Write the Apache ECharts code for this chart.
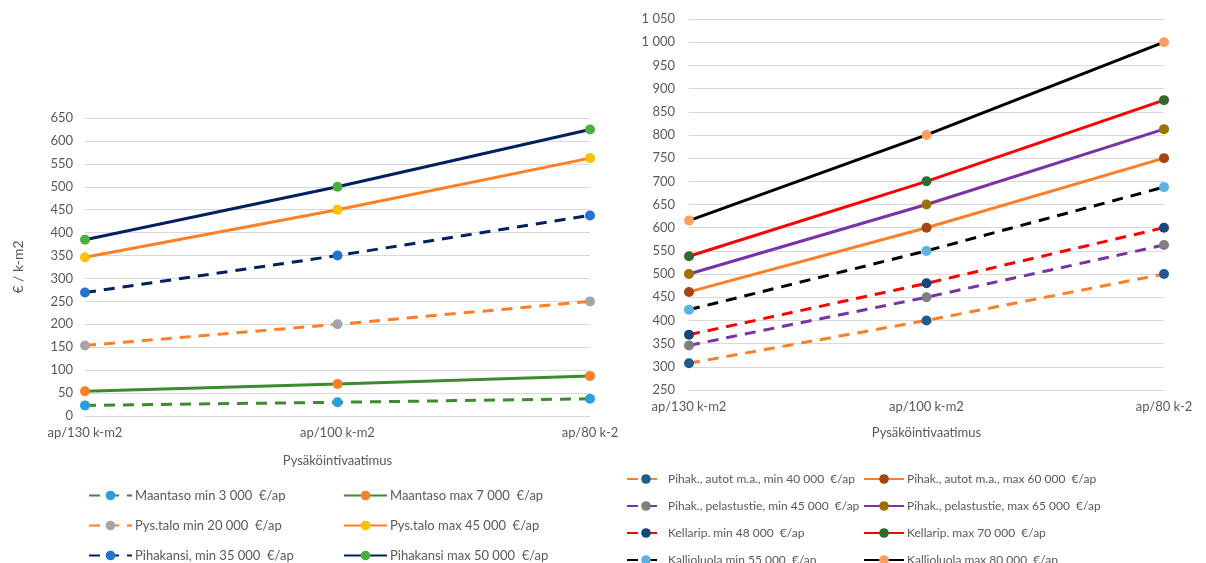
<!DOCTYPE html>
<html>
<head>
<meta charset="utf-8">
<script src="https://cdn.jsdelivr.net/npm/echarts@6/dist/echarts.min.js"></script>
<style>
  html, body { margin: 0; padding: 0; background: #fff; }
  #chart { width: 1206px; height: 563px; }
</style>
</head>
<body>
<div id="chart"></div>
<script>
// kategoriat (sama molemmissa kaavioissa)
const categoriesLeft = ["ap/130 k-m2", "ap/100 k-m2", "ap/80 k-2"];
const categoriesRight = ["ap/130 k-m2", "ap/100 k-m2", "ap/80 k-2"];

// vasen kaavio, € / k-m2
const maantasoMin = [23.1, 30, 37.5];
const maantasoMax = [53.8, 70, 87.5];
const pysTaloMin = [153.8, 200, 250];
const pysTaloMax = [346.2, 450, 562.5];
const pihakansiMin = [269.2, 350, 437.5];
const pihakansiMax = [384.6, 500, 625];

// oikea kaavio
const autotMin = [307.7, 400, 500];
const autotMax = [461.5, 600, 750];
const pelastusMin = [346.2, 450, 562.5];
const pelastusMax = [500, 650, 812.5];
const kellariMin = [369.2, 480, 600];
const kellariMax = [538.5, 700, 875];
const kallioMin = [423.1, 550, 687.5];
const kallioMax = [615.4, 800, 1000];

const FONT = "Lato";
const labelColor = "#595959";
const gridColor = "#d9d9d9";
const DASH = [11, 8];

function fmt(v) {
  return String(v).replace(/\B(?=(\d{3})+(?!\d))/g, " ");
}

function line(name, data, lineColor, markColor, dashed, idx) {
  return {
    name: name,
    type: "line",
    data: data,
    xAxisIndex: idx,
    yAxisIndex: idx,
    symbol: "circle",
    symbolSize: 10,
    showSymbol: true,
    itemStyle: { color: markColor },
    lineStyle: { color: lineColor, width: 3, type: dashed ? DASH : "solid" },
    emphasis: { disabled: true },
    animation: false,
  };
}

function xAxis(cats, idx, nameGap) {
  return {
    type: "category",
    gridIndex: idx,
    data: cats,
    boundaryGap: false,
    name: "Pysäköintivaatimus",
    nameLocation: "middle",
    nameGap: nameGap,
    nameTextStyle: { color: labelColor, fontFamily: FONT, fontSize: 13 },
    axisLine: { show: true, lineStyle: { color: gridColor } },
    axisTick: { show: false },
    axisLabel: { color: labelColor, fontFamily: FONT, fontSize: 13, margin: 10 },
  };
}

const series = [
  line("Maantaso min 3 000  €/ap", maantasoMin, "#3d8b2f", "#28a0dc", true, 0),
  line("Maantaso max 7 000  €/ap", maantasoMax, "#3d8b2f", "#ff7f27", false, 0),
  line("Pys.talo min 20 000  €/ap", pysTaloMin, "#ff7f27", "#a5a5a5", true, 0),
  line("Pys.talo max 45 000  €/ap", pysTaloMax, "#ff7f27", "#ffc000", false, 0),
  line("Pihakansi, min 35 000  €/ap", pihakansiMin, "#002060", "#1f74cc", true, 0),
  line("Pihakansi max 50 000  €/ap", pihakansiMax, "#002060", "#4cae3f", false, 0),

  line("Pihak., autot m.a., min 40 000  €/ap", autotMin, "#ff7f27", "#1f5c8b", true, 1),
  line("Pihak., autot m.a., max 60 000  €/ap", autotMax, "#ff7f27", "#a5460e", false, 1),
  line("Pihak., pelastustie, min 45 000  €/ap", pelastusMin, "#7a32a8", "#7f7f7f", true, 1),
  line("Pihak., pelastustie, max 65 000  €/ap", pelastusMax, "#7a32a8", "#9c7300", false, 1),
  line("Kellarip. min 48 000  €/ap", kellariMin, "#ff0000", "#17467a", true, 1),
  line("Kellarip. max 70 000  €/ap", kellariMax, "#ff0000", "#2f6b2a", false, 1),
  line("Kallioluola min 55 000  €/ap", kallioMin, "#000000", "#5cb2e4", true, 1),
  line("Kallioluola max 80 000  €/ap", kallioMax, "#000000", "#ff9e5e", false, 1),
];

// yksi legenda per merkintä, jotta sarakkeet pysyvät paikallaan
function legend(name, left, top, w, size) {
  return {
    data: [name],
    left: left,
    top: top,
    itemWidth: w,
    itemHeight: 12,
    selectedMode: false,
    textStyle: { color: labelColor, fontFamily: FONT, fontSize: size, padding: [0, 0, 0, -2] },
  };
}

const n = series.map((s) => s.name);
const leftRows = [484, 514, 544];
const rightRows = [468, 495, 522, 549];
const legends = [];
leftRows.forEach((t, i) => {
  legends.push(legend(n[i * 2], 83, t, 43, 13));
  legends.push(legend(n[i * 2 + 1], 338, t, 43, 13));
});
rightRows.forEach((t, i) => {
  legends.push(legend(n[6 + i * 2], 621, t, 38, 12));
  legends.push(legend(n[6 + i * 2 + 1], 858, t, 40, 12));
});

const chart = echarts.init(document.getElementById("chart"));
chart.setOption({
  backgroundColor: "#fff",
  animation: false,
  grid: [
    { left: 85, top: 118, width: 505, height: 298 },
    { left: 689, top: 19, width: 475, height: 371 },
  ],
  xAxis: [xAxis(categoriesLeft, 0, 38), xAxis(categoriesRight, 1, 36)],
  yAxis: [
    {
      type: "value",
      gridIndex: 0,
      min: 0,
      max: 650,
      interval: 50,
      name: "€ / k-m2",
      nameLocation: "middle",
      nameGap: 60,
      nameTextStyle: { color: labelColor, fontFamily: FONT, fontSize: 14 },
      axisLine: { show: false },
      axisTick: { show: false },
      splitLine: { lineStyle: { color: gridColor } },
      axisLabel: { color: labelColor, fontFamily: FONT, fontSize: 13, margin: 12, formatter: fmt },
    },
    {
      type: "value",
      gridIndex: 1,
      min: 250,
      max: 1050,
      interval: 50,
      axisLine: { show: false },
      axisTick: { show: false },
      splitLine: { lineStyle: { color: gridColor } },
      axisLabel: { color: labelColor, fontFamily: FONT, fontSize: 13, margin: 14, formatter: fmt },
    },
  ],
  legend: legends,
  series: series,
});
</script>
</body>
</html>
